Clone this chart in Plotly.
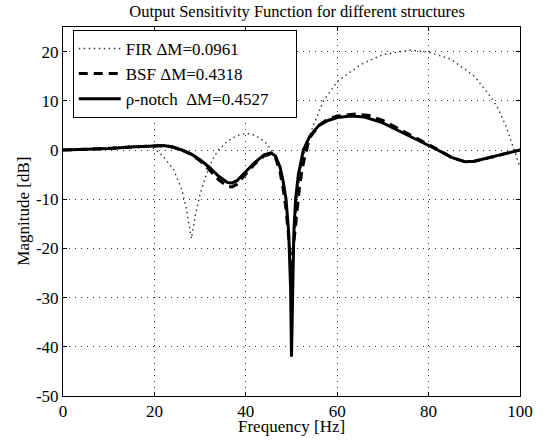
import plotly.graph_objects as go

# Frequency grid points and magnitudes (dB)
fir_f = [0, 5, 10, 15, 18, 20, 21, 22, 24.2, 26, 27, 28.1, 29, 30, 31, 32, 33, 34, 36, 38, 40, 42, 44, 45,
         46, 47, 48, 48.7, 49.3, 49.8, 50, 50.2, 50.7, 51.3, 52, 53, 54, 55, 57, 60, 65, 70, 76, 80, 85, 90,
         93, 95, 97, 98.5, 100]
fir_db = [0, 0.2, 0.5, 0.8, 0.8, 0.3, -0.5, -1.4, -4, -8, -12, -18, -13, -9, -6, -3.5, -1.5, 0, 1.8, 2.9,
          3.4, 3.0, 1.8, 0.8, -0.5, -2.5, -6, -10, -17, -25, -30, -25, -17, -10, -4, 0, 3, 5.5, 10, 13.9,
          17.3, 19.4, 20.3, 19.9, 18.4, 15, 11.5, 8.8, 4.7, 0.5, -3.5]

bsf_f = [0, 5, 10, 15, 20, 22, 24, 26, 28, 30, 32, 34, 36, 37, 38, 40, 42, 44, 45.5, 46.5, 47.5, 48.2,
         48.8, 49.4, 50, 50.6, 51.2, 51.7, 52.3, 53, 54, 56, 58, 60, 64, 67, 70, 75, 80, 82, 85, 88, 90,
         93, 96, 100]
bsf_db = [0, 0.1, 0.3, 0.6, 0.9, 0.9, 0.6, 0, -0.9, -2.2, -4, -6, -7.4, -7.5, -7, -5, -2.8, -1.2, -0.8,
          -1.6, -4.5, -8, -12, -18, -25, -18, -12, -8, -4, -1, 2.5, 5, 6.3, 6.9, 7.3, 7.0, 6, 3.6, 1.2,
          0.1, -1.5, -2.4, -2.3, -1.6, -0.8, 0]

rho_f = [0, 5, 10, 15, 20, 22, 24, 26, 28, 30, 32, 34, 36, 37, 38, 40, 42, 44, 45.5, 46.5, 47.5, 48.2,
         48.8, 49.4, 49.8, 50, 50.2, 50.5, 50.9, 51.5, 52.6, 54, 56, 58, 60, 63, 66, 70, 75, 80, 82, 85,
         88, 90, 93, 96, 100]
rho_db = [0, 0.1, 0.3, 0.6, 0.9, 0.9, 0.6, 0, -0.8, -2, -3.5, -5.3, -6.6, -6.7, -6.3, -4.5, -2.5, -1.0,
          -0.6, -1.2, -3.5, -6.5, -10, -17, -28, -42, -28, -17, -10, -5, 0, 2.8, 5, 6, 6.6, 6.9, 6.7,
          5.5, 3.2, 1.0, 0, -1.5, -2.4, -2.3, -1.6, -0.8, 0]

series_names = ["FIR \u0394M=0.0961",
                "BSF \u0394M=0.4318",
                "\u03c1-notch\u00a0\u00a0\u0394M=0.4527" + "\u00a0" * 5]

x_ticks = [0, 20, 40, 60, 80, 100]
x_ticktext = ["0", "20", "40", "60", "80", "100"]
y_ticks = [-50, -40, -30, -20, -10, 0, 10, 20]
y_ticktext = ["-50", "-40", "-30", "-20", "-10", "0", "10", "20"]

FONT = "Liberation Serif, Times New Roman, serif"

fig = go.Figure()
fig.add_trace(go.Scatter(x=fir_f, y=fir_db, mode="lines", name=series_names[0],
                         line=dict(color="#333333", width=1.4, dash="1.5px,3.5px")))
fig.add_trace(go.Scatter(x=bsf_f, y=bsf_db, mode="lines", name=series_names[1],
                         line=dict(color="black", width=3, dash="9px,6px")))
fig.add_trace(go.Scatter(x=rho_f, y=rho_db, mode="lines", name=series_names[2],
                         line=dict(color="black", width=3)))

axis_common = dict(
    showline=True, linecolor="black", linewidth=1, mirror="ticks",
    ticks="inside", ticklen=4, tickcolor="black",
    showgrid=True, gridcolor="#333333", gridwidth=1, griddash="1px,5px",
    zeroline=False, tickfont=dict(family=FONT, size=17, color="black"),
)

fig.update_layout(
    width=544, height=445,
    margin=dict(l=63, r=11, t=27, b=49),
    paper_bgcolor="white", plot_bgcolor="white",
    font=dict(family=FONT, size=17, color="black"),
    title=dict(text="Output Sensitivity Function for different structures",
               x=0.546, xanchor="center", y=1 - 11 / 445, yanchor="middle",
               font=dict(family=FONT, size=16.5, color="black")),
    xaxis=dict(range=[0, 100], tickvals=x_ticks, ticktext=x_ticktext,
               ticklabeloverflow="allow", **axis_common),
    yaxis=dict(range=[-50, 25], tickvals=y_ticks, ticktext=y_ticktext, **axis_common),
    legend=dict(x=0.0213, y=0.992, xanchor="left", yanchor="top",
                bgcolor="white", bordercolor="black", borderwidth=1,
                font=dict(family=FONT, size=17, color="black"),
                tracegroupgap=0, itemwidth=42),
    showlegend=True,
    annotations=[
        dict(text="Frequency [Hz]", xref="paper", yref="paper", x=0.5, y=-30 / 369,
             xanchor="center", yanchor="middle", showarrow=False,
             font=dict(family=FONT, size=17, color="black")),
        dict(text="Magnitude [dB]", xref="paper", yref="paper", x=-41 / 470, y=0.5,
             xanchor="center", yanchor="middle", textangle=-90, showarrow=False,
             font=dict(family=FONT, size=17, color="black")),
    ],
)

fig.write_html("out.html", config={"displayModeBar": False},
               post_script="document.body.style.margin='0px';document.body.style.overflow='hidden';")
